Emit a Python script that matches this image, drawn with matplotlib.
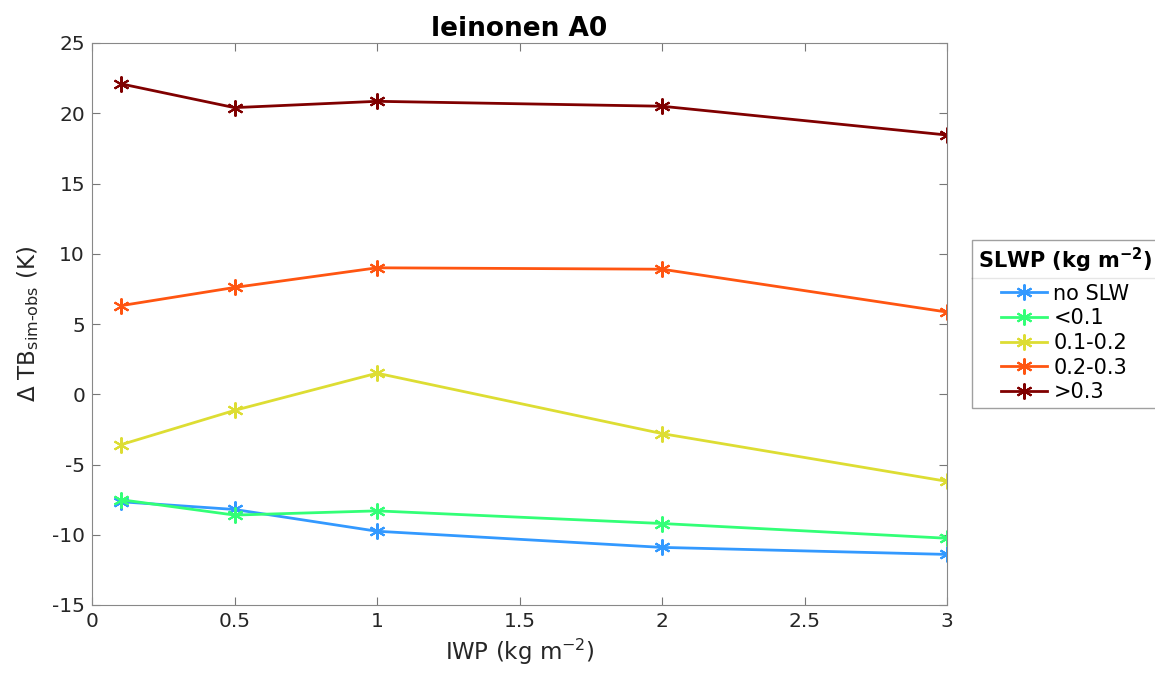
import numpy as np
import matplotlib.pyplot as plt
from matplotlib.lines import Line2D

plt.rcParams['axes.unicode_minus'] = False

iwp = [0.1, 0.5, 1, 2, 3]
labels = ['no SLW', '<0.1', '0.1-0.2', '0.2-0.3', '>0.3']
no_slw = [-7.65, -8.2, -9.75, -10.9, -11.4]
lt01 = [-7.5, -8.6, -8.3, -9.2, -10.25]
s01_02 = [-3.6, -1.15, 1.5, -2.8, -6.2]
s02_03 = [6.3, 7.6, 9.0, 8.9, 5.85]
gt03 = [22.1, 20.4, 20.85, 20.5, 18.45]
series = [no_slw, lt01, s01_02, s02_03, gt03]
colors = ['#3399ff', '#33ff77', '#dddd33', '#ff5511', '#800000']

fig = plt.figure(figsize=(11.55, 6.73), dpi=100)
ax = fig.add_axes([92 / 1155, 1 - 605 / 673, (947 - 92) / 1155, (605 - 43) / 673])

# MATLAB style asterisk marker
ast = (6, 2, 0)
handles = []
for y, lab, c in zip(series, labels, colors):
    h, = ax.plot(iwp, y, '-', marker=ast, color=c, lw=2.0, markersize=11.5,
                 markeredgewidth=1.5, label=lab)
    handles.append(h)

ax.set_xlim(0, 3)
ax.set_ylim(-15, 25)
ax.set_xticks([0, 0.5, 1, 1.5, 2, 2.5, 3])
ax.set_xticklabels(['0', '0.5', '1', '1.5', '2', '2.5', '3'])
ax.set_yticks(np.arange(-15, 26, 5))
ax.tick_params(direction='in', top=True, right=True, labelsize=14.5, color='#777777',
               labelcolor='#262626', length=6, pad=5)
for s in ax.spines.values():
    s.set_color('#888888')
ax.set_xlabel('IWP (kg m$^{-2}$)', fontsize=16.5, color='#262626', labelpad=4)
ax.set_ylabel(r'$\Delta$ TB$_{\mathregular{sim\text{-}obs}}$ (K)', fontsize=16.5,
              color='#262626', labelpad=8)
ax.set_title('leinonen A0', fontsize=19, fontweight='bold', pad=5)

leg = fig.legend(handles=handles, loc='upper left', bbox_to_anchor=(972 / 1155, 1 - 240 / 673),
                 title='SLWP (kg m$^{\\mathbf{-2}}$)', fontsize=15, frameon=True, fancybox=False,
                 edgecolor='#888888', borderaxespad=0, handlelength=2.2, handletextpad=0.3,
                 labelspacing=0.22, borderpad=0.3)
leg.get_title().set_fontweight('bold')
leg.get_title().set_fontsize(15)
leg.get_frame().set_linewidth(1.0)
leg._legend_box.sep = 6

# separator line under the legend title
fig.canvas.draw()
r = fig.canvas.get_renderer()
fb = leg.get_frame().get_window_extent(r)
tb = leg.get_title().get_window_extent(r)
ysep = (tb.y0 - 3) / fig.bbox.height
fig.add_artist(Line2D([fb.x0 / fig.bbox.width, fb.x1 / fig.bbox.width], [ysep, ysep],
                      color='#888888', lw=1.0))

fig.savefig('out.png', dpi=100)
